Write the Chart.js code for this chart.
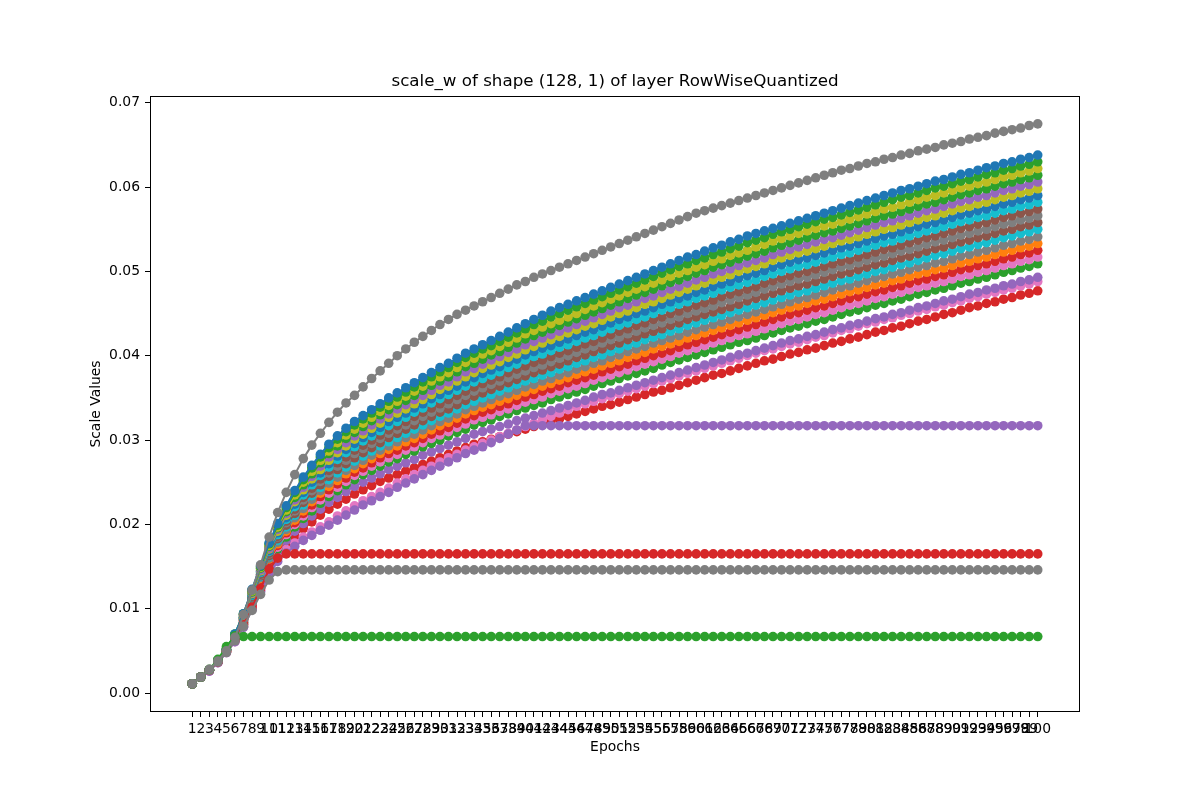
<!DOCTYPE html>
<html>
<head>
<meta charset="utf-8">
<title>scale_w of shape (128, 1) of layer RowWiseQuantized</title>
<script src="https://cdn.jsdelivr.net/npm/chart.js@4/dist/chart.umd.min.js"></script>
<style>
  html, body { margin: 0; padding: 0; background: #fff; }
  canvas { display: block; }
</style>
</head>
<body>
<canvas id="scaleChart" width="1200" height="800"></canvas>
<script>
// text
const chartTitle = 'scale_w of shape (128, 1) of layer RowWiseQuantized';
const xTitle = 'Epochs';
const yTitle = 'Scale Values';

// x categories: epochs 1..100
const epochs = Array.from({ length: 100 }, (_, i) => i + 1);
const yTicks = [0, 0.01, 0.02, 0.03, 0.04, 0.05, 0.06, 0.07];

// series values (top gray, then the band from high to low, then the flat ones)
const scaleTop = [
  0.0011,0.0019,0.0028,0.0038,0.0050,0.0066,0.0093,0.0122,0.0152,0.0185,
  0.0214,0.0238,0.0259,0.0278,0.0294,0.0308,0.0321,0.0333,0.0344,0.0353,
  0.0363,0.0373,0.0382,0.0391,0.0400,0.0408,0.0416,0.0423,0.0430,0.0437,
  0.0443,0.0449,0.0454,0.0459,0.0464,0.0469,0.0474,0.0479,0.0484,0.0488,
  0.0493,0.0497,0.0501,0.0505,0.0509,0.0513,0.0517,0.0521,0.0525,0.0529,
  0.0533,0.0537,0.0541,0.0545,0.0549,0.0553,0.0557,0.0561,0.0565,0.0569,
  0.0572,0.0575,0.0578,0.0581,0.0584,0.0587,0.0590,0.0593,0.0596,0.0599,
  0.0602,0.0605,0.0608,0.0611,0.0614,0.0617,0.0620,0.0622,0.0625,0.0628,
  0.0630,0.0633,0.0635,0.0638,0.0640,0.0643,0.0645,0.0647,0.0650,0.0652,
  0.0654,0.0657,0.0659,0.0661,0.0664,0.0666,0.0668,0.0670,0.0673,0.0675
];
const band100 = [
  0.0011,0.0019,0.0027,0.0038,0.0052,0.0070,0.0094,0.0123,0.0151,0.0178,
  0.0201,0.0222,0.0240,0.0256,0.0270,0.0283,0.0295,0.0305,0.0314,0.0322,
  0.0329,0.0336,0.0343,0.0350,0.0356,0.0362,0.0368,0.0374,0.0380,0.0386,
  0.0391,0.0397,0.0403,0.0408,0.0413,0.0418,0.0423,0.0428,0.0433,0.0438,
  0.0443,0.0448,0.0453,0.0457,0.0461,0.0465,0.0469,0.0473,0.0477,0.0481,
  0.0485,0.0489,0.0493,0.0497,0.0501,0.0505,0.0509,0.0513,0.0517,0.0520,
  0.0524,0.0528,0.0531,0.0535,0.0538,0.0542,0.0545,0.0548,0.0551,0.0554,
  0.0557,0.0560,0.0563,0.0566,0.0569,0.0572,0.0575,0.0578,0.0581,0.0584,
  0.0587,0.0590,0.0593,0.0596,0.0598,0.0601,0.0604,0.0607,0.0609,0.0612,
  0.0615,0.0617,0.0620,0.0623,0.0625,0.0628,0.0630,0.0633,0.0635,0.0638
];
const band95 = [
  0.0011,0.0019,0.0027,0.0038,0.0052,0.0070,0.0094,0.0122,0.0150,0.0177,
  0.0199,0.0220,0.0238,0.0253,0.0267,0.0280,0.0291,0.0301,0.0310,0.0318,
  0.0325,0.0332,0.0339,0.0346,0.0351,0.0357,0.0363,0.0369,0.0375,0.0381,
  0.0386,0.0392,0.0398,0.0403,0.0408,0.0412,0.0417,0.0422,0.0427,0.0432,
  0.0437,0.0441,0.0446,0.0450,0.0454,0.0458,0.0462,0.0466,0.0470,0.0474,
  0.0478,0.0482,0.0486,0.0490,0.0494,0.0498,0.0502,0.0506,0.0509,0.0513,
  0.0516,0.0520,0.0523,0.0527,0.0530,0.0534,0.0537,0.0540,0.0544,0.0547,
  0.0550,0.0553,0.0556,0.0559,0.0562,0.0564,0.0567,0.0570,0.0573,0.0576,
  0.0579,0.0582,0.0585,0.0588,0.0590,0.0593,0.0596,0.0599,0.0601,0.0604,
  0.0607,0.0609,0.0612,0.0615,0.0617,0.0620,0.0622,0.0625,0.0627,0.0630
];
const band90 = [
  0.0011,0.0019,0.0027,0.0038,0.0052,0.0069,0.0093,0.0121,0.0149,0.0175,
  0.0197,0.0217,0.0235,0.0250,0.0263,0.0276,0.0287,0.0297,0.0306,0.0313,
  0.0320,0.0327,0.0334,0.0341,0.0346,0.0352,0.0358,0.0364,0.0370,0.0375,
  0.0380,0.0386,0.0392,0.0397,0.0402,0.0406,0.0411,0.0416,0.0421,0.0426,
  0.0430,0.0434,0.0438,0.0442,0.0446,0.0450,0.0455,0.0459,0.0463,0.0467,
  0.0471,0.0475,0.0479,0.0482,0.0486,0.0490,0.0494,0.0498,0.0501,0.0505,
  0.0508,0.0512,0.0515,0.0519,0.0522,0.0525,0.0529,0.0532,0.0536,0.0539,
  0.0542,0.0545,0.0548,0.0551,0.0554,0.0556,0.0559,0.0562,0.0565,0.0568,
  0.0571,0.0574,0.0576,0.0579,0.0582,0.0585,0.0588,0.0590,0.0593,0.0596,
  0.0599,0.0601,0.0604,0.0606,0.0609,0.0612,0.0614,0.0617,0.0619,0.0622
];
const band85 = [
  0.0011,0.0019,0.0027,0.0038,0.0052,0.0069,0.0093,0.0120,0.0148,0.0174,
  0.0196,0.0215,0.0232,0.0247,0.0260,0.0273,0.0284,0.0293,0.0302,0.0309,
  0.0316,0.0323,0.0330,0.0336,0.0342,0.0347,0.0353,0.0359,0.0365,0.0370,
  0.0375,0.0381,0.0387,0.0391,0.0396,0.0401,0.0405,0.0410,0.0415,0.0420,
  0.0424,0.0428,0.0432,0.0436,0.0440,0.0444,0.0448,0.0452,0.0456,0.0460,
  0.0464,0.0468,0.0472,0.0475,0.0479,0.0483,0.0487,0.0490,0.0494,0.0498,
  0.0501,0.0505,0.0508,0.0511,0.0515,0.0518,0.0521,0.0524,0.0528,0.0531,
  0.0534,0.0537,0.0540,0.0543,0.0546,0.0548,0.0551,0.0554,0.0557,0.0560,
  0.0563,0.0566,0.0568,0.0571,0.0574,0.0577,0.0580,0.0582,0.0585,0.0588,
  0.0591,0.0593,0.0596,0.0598,0.0601,0.0604,0.0606,0.0609,0.0611,0.0614
];
const band80 = [
  0.0011,0.0019,0.0027,0.0038,0.0051,0.0069,0.0092,0.0119,0.0146,0.0172,
  0.0194,0.0213,0.0229,0.0244,0.0257,0.0269,0.0280,0.0289,0.0297,0.0305,
  0.0311,0.0318,0.0325,0.0331,0.0337,0.0342,0.0348,0.0353,0.0359,0.0365,
  0.0369,0.0375,0.0381,0.0385,0.0390,0.0395,0.0399,0.0404,0.0408,0.0413,
  0.0417,0.0421,0.0425,0.0429,0.0433,0.0437,0.0441,0.0445,0.0449,0.0453,
  0.0457,0.0460,0.0464,0.0468,0.0471,0.0475,0.0479,0.0482,0.0486,0.0490,
  0.0493,0.0497,0.0500,0.0503,0.0507,0.0510,0.0513,0.0516,0.0520,0.0523,
  0.0526,0.0529,0.0532,0.0535,0.0538,0.0540,0.0543,0.0546,0.0549,0.0552,
  0.0555,0.0558,0.0560,0.0563,0.0566,0.0569,0.0572,0.0574,0.0577,0.0580,
  0.0583,0.0585,0.0588,0.0590,0.0593,0.0596,0.0598,0.0601,0.0603,0.0606
];
const band75 = [
  0.0011,0.0019,0.0027,0.0038,0.0051,0.0069,0.0091,0.0118,0.0145,0.0171,
  0.0192,0.0211,0.0227,0.0241,0.0254,0.0265,0.0276,0.0285,0.0293,0.0301,
  0.0307,0.0314,0.0320,0.0327,0.0332,0.0337,0.0343,0.0348,0.0354,0.0360,
  0.0364,0.0370,0.0375,0.0380,0.0385,0.0389,0.0393,0.0398,0.0402,0.0407,
  0.0411,0.0415,0.0419,0.0423,0.0427,0.0431,0.0435,0.0438,0.0442,0.0446,
  0.0450,0.0453,0.0457,0.0461,0.0464,0.0468,0.0472,0.0475,0.0479,0.0483,
  0.0486,0.0490,0.0493,0.0496,0.0500,0.0503,0.0506,0.0509,0.0513,0.0516,
  0.0519,0.0522,0.0524,0.0527,0.0530,0.0533,0.0536,0.0538,0.0541,0.0544,
  0.0547,0.0550,0.0552,0.0555,0.0558,0.0561,0.0564,0.0566,0.0569,0.0572,
  0.0575,0.0577,0.0580,0.0582,0.0585,0.0588,0.0590,0.0593,0.0595,0.0598
];
const band70 = [
  0.0011,0.0019,0.0027,0.0038,0.0051,0.0068,0.0090,0.0117,0.0144,0.0169,
  0.0190,0.0208,0.0224,0.0238,0.0250,0.0261,0.0272,0.0281,0.0289,0.0296,
  0.0303,0.0309,0.0315,0.0322,0.0327,0.0332,0.0338,0.0343,0.0349,0.0354,
  0.0359,0.0364,0.0369,0.0374,0.0379,0.0383,0.0387,0.0392,0.0396,0.0401,
  0.0405,0.0409,0.0412,0.0416,0.0420,0.0424,0.0428,0.0431,0.0435,0.0439,
  0.0443,0.0446,0.0450,0.0453,0.0457,0.0461,0.0464,0.0468,0.0471,0.0475,
  0.0478,0.0482,0.0485,0.0488,0.0492,0.0495,0.0498,0.0501,0.0505,0.0508,
  0.0511,0.0514,0.0516,0.0519,0.0522,0.0525,0.0528,0.0530,0.0533,0.0536,
  0.0539,0.0542,0.0544,0.0547,0.0550,0.0553,0.0556,0.0558,0.0561,0.0564,
  0.0567,0.0569,0.0572,0.0574,0.0577,0.0580,0.0582,0.0585,0.0587,0.0590
];
const band65 = [
  0.0011,0.0019,0.0027,0.0038,0.0051,0.0068,0.0090,0.0116,0.0143,0.0168,
  0.0188,0.0206,0.0221,0.0235,0.0247,0.0258,0.0268,0.0277,0.0285,0.0292,
  0.0299,0.0305,0.0311,0.0317,0.0322,0.0327,0.0333,0.0338,0.0344,0.0349,
  0.0354,0.0359,0.0364,0.0369,0.0373,0.0377,0.0381,0.0386,0.0390,0.0395,
  0.0399,0.0402,0.0406,0.0410,0.0413,0.0417,0.0421,0.0424,0.0428,0.0432,
  0.0436,0.0439,0.0443,0.0446,0.0450,0.0454,0.0457,0.0461,0.0464,0.0468,
  0.0471,0.0474,0.0478,0.0481,0.0484,0.0487,0.0490,0.0494,0.0497,0.0500,
  0.0503,0.0506,0.0508,0.0511,0.0514,0.0517,0.0520,0.0522,0.0525,0.0528,
  0.0531,0.0534,0.0536,0.0539,0.0542,0.0545,0.0548,0.0550,0.0553,0.0556,
  0.0559,0.0561,0.0564,0.0566,0.0569,0.0572,0.0574,0.0577,0.0579,0.0582
];
const band60 = [
  0.0011,0.0019,0.0027,0.0038,0.0051,0.0067,0.0089,0.0115,0.0141,0.0166,
  0.0186,0.0204,0.0218,0.0232,0.0243,0.0254,0.0264,0.0273,0.0280,0.0288,
  0.0294,0.0300,0.0306,0.0312,0.0317,0.0322,0.0328,0.0333,0.0338,0.0343,
  0.0348,0.0353,0.0358,0.0363,0.0367,0.0371,0.0375,0.0380,0.0384,0.0388,
  0.0392,0.0395,0.0399,0.0403,0.0406,0.0410,0.0414,0.0417,0.0421,0.0425,
  0.0429,0.0432,0.0436,0.0439,0.0443,0.0446,0.0450,0.0453,0.0457,0.0460,
  0.0463,0.0466,0.0470,0.0473,0.0476,0.0479,0.0482,0.0486,0.0489,0.0492,
  0.0495,0.0498,0.0500,0.0503,0.0506,0.0509,0.0512,0.0514,0.0517,0.0520,
  0.0523,0.0526,0.0528,0.0531,0.0534,0.0537,0.0540,0.0542,0.0545,0.0548,
  0.0551,0.0553,0.0556,0.0558,0.0561,0.0564,0.0566,0.0569,0.0571,0.0574
];
const band55 = [
  0.0011,0.0019,0.0027,0.0038,0.0051,0.0067,0.0089,0.0115,0.0140,0.0165,
  0.0185,0.0202,0.0216,0.0229,0.0240,0.0251,0.0261,0.0269,0.0276,0.0284,
  0.0290,0.0296,0.0302,0.0308,0.0313,0.0318,0.0323,0.0328,0.0333,0.0338,
  0.0343,0.0348,0.0353,0.0358,0.0362,0.0366,0.0370,0.0374,0.0378,0.0382,
  0.0386,0.0389,0.0393,0.0397,0.0400,0.0404,0.0408,0.0411,0.0415,0.0419,
  0.0422,0.0426,0.0429,0.0433,0.0436,0.0439,0.0443,0.0446,0.0450,0.0453,
  0.0456,0.0459,0.0463,0.0466,0.0469,0.0472,0.0475,0.0479,0.0482,0.0485,
  0.0488,0.0491,0.0493,0.0496,0.0499,0.0502,0.0505,0.0507,0.0510,0.0513,
  0.0516,0.0518,0.0521,0.0524,0.0526,0.0529,0.0532,0.0535,0.0537,0.0540,
  0.0543,0.0545,0.0548,0.0550,0.0553,0.0556,0.0558,0.0561,0.0563,0.0566
];
const band50 = [
  0.0011,0.0019,0.0027,0.0038,0.0051,0.0067,0.0088,0.0114,0.0139,0.0163,
  0.0183,0.0199,0.0213,0.0226,0.0237,0.0247,0.0257,0.0265,0.0272,0.0279,
  0.0285,0.0291,0.0297,0.0303,0.0308,0.0313,0.0318,0.0323,0.0328,0.0333,
  0.0337,0.0342,0.0347,0.0352,0.0356,0.0360,0.0364,0.0368,0.0372,0.0376,
  0.0380,0.0383,0.0387,0.0390,0.0394,0.0398,0.0401,0.0405,0.0408,0.0412,
  0.0415,0.0419,0.0422,0.0426,0.0429,0.0432,0.0436,0.0439,0.0443,0.0446,
  0.0449,0.0452,0.0455,0.0458,0.0461,0.0465,0.0468,0.0471,0.0474,0.0477,
  0.0480,0.0483,0.0485,0.0488,0.0491,0.0494,0.0497,0.0499,0.0502,0.0505,
  0.0508,0.0510,0.0513,0.0516,0.0518,0.0521,0.0524,0.0527,0.0529,0.0532,
  0.0535,0.0537,0.0540,0.0542,0.0545,0.0548,0.0550,0.0553,0.0555,0.0558
];
const band45 = [
  0.0011,0.0019,0.0027,0.0038,0.0051,0.0067,0.0088,0.0113,0.0138,0.0162,
  0.0181,0.0197,0.0211,0.0223,0.0234,0.0244,0.0253,0.0261,0.0268,0.0275,
  0.0281,0.0287,0.0293,0.0298,0.0303,0.0308,0.0313,0.0318,0.0323,0.0328,
  0.0332,0.0337,0.0342,0.0346,0.0350,0.0354,0.0358,0.0362,0.0366,0.0370,
  0.0373,0.0377,0.0380,0.0384,0.0387,0.0391,0.0394,0.0398,0.0401,0.0405,
  0.0408,0.0412,0.0415,0.0419,0.0422,0.0425,0.0429,0.0432,0.0436,0.0439,
  0.0442,0.0445,0.0448,0.0451,0.0454,0.0457,0.0460,0.0463,0.0466,0.0469,
  0.0472,0.0475,0.0477,0.0480,0.0483,0.0486,0.0489,0.0491,0.0494,0.0497,
  0.0500,0.0502,0.0505,0.0508,0.0510,0.0513,0.0516,0.0519,0.0521,0.0524,
  0.0527,0.0529,0.0532,0.0534,0.0537,0.0540,0.0542,0.0545,0.0547,0.0550
];
const band40 = [
  0.0011,0.0019,0.0027,0.0037,0.0050,0.0066,0.0087,0.0112,0.0137,0.0160,
  0.0179,0.0194,0.0208,0.0219,0.0230,0.0240,0.0249,0.0256,0.0264,0.0270,
  0.0276,0.0282,0.0288,0.0293,0.0298,0.0303,0.0307,0.0312,0.0317,0.0322,
  0.0326,0.0331,0.0336,0.0340,0.0344,0.0348,0.0352,0.0355,0.0359,0.0363,
  0.0366,0.0370,0.0373,0.0377,0.0380,0.0384,0.0387,0.0391,0.0394,0.0398,
  0.0401,0.0405,0.0408,0.0411,0.0415,0.0418,0.0421,0.0424,0.0428,0.0431,
  0.0434,0.0437,0.0440,0.0443,0.0446,0.0449,0.0452,0.0455,0.0458,0.0461,
  0.0464,0.0467,0.0469,0.0472,0.0475,0.0478,0.0481,0.0483,0.0486,0.0489,
  0.0492,0.0494,0.0497,0.0499,0.0502,0.0505,0.0507,0.0510,0.0512,0.0515,
  0.0518,0.0520,0.0523,0.0525,0.0528,0.0531,0.0533,0.0536,0.0538,0.0541
];
const band35 = [
  0.0011,0.0019,0.0027,0.0037,0.0050,0.0066,0.0087,0.0111,0.0136,0.0159,
  0.0177,0.0192,0.0205,0.0216,0.0227,0.0237,0.0245,0.0252,0.0260,0.0266,
  0.0272,0.0278,0.0284,0.0289,0.0293,0.0298,0.0302,0.0307,0.0312,0.0317,
  0.0321,0.0326,0.0331,0.0335,0.0339,0.0342,0.0346,0.0349,0.0353,0.0357,
  0.0360,0.0364,0.0367,0.0371,0.0374,0.0378,0.0381,0.0384,0.0388,0.0391,
  0.0394,0.0398,0.0401,0.0404,0.0408,0.0411,0.0414,0.0417,0.0421,0.0424,
  0.0427,0.0430,0.0433,0.0436,0.0439,0.0442,0.0445,0.0448,0.0451,0.0454,
  0.0457,0.0459,0.0462,0.0465,0.0467,0.0470,0.0473,0.0476,0.0478,0.0481,
  0.0484,0.0486,0.0489,0.0491,0.0494,0.0497,0.0499,0.0502,0.0504,0.0507,
  0.0510,0.0512,0.0515,0.0517,0.0520,0.0523,0.0525,0.0528,0.0530,0.0533
];
const band30 = [
  0.0011,0.0019,0.0027,0.0037,0.0050,0.0065,0.0086,0.0110,0.0134,0.0157,
  0.0175,0.0190,0.0202,0.0213,0.0223,0.0233,0.0241,0.0248,0.0255,0.0262,
  0.0267,0.0273,0.0279,0.0284,0.0288,0.0293,0.0297,0.0302,0.0307,0.0311,
  0.0315,0.0320,0.0325,0.0329,0.0333,0.0336,0.0340,0.0343,0.0347,0.0351,
  0.0354,0.0358,0.0361,0.0364,0.0368,0.0371,0.0374,0.0377,0.0381,0.0384,
  0.0387,0.0390,0.0394,0.0397,0.0400,0.0403,0.0406,0.0410,0.0413,0.0416,
  0.0419,0.0422,0.0425,0.0428,0.0431,0.0434,0.0437,0.0440,0.0443,0.0446,
  0.0449,0.0451,0.0454,0.0457,0.0459,0.0462,0.0465,0.0468,0.0470,0.0473,
  0.0476,0.0478,0.0481,0.0483,0.0486,0.0489,0.0491,0.0494,0.0496,0.0499,
  0.0502,0.0504,0.0507,0.0509,0.0512,0.0515,0.0517,0.0520,0.0522,0.0525
];
const band25 = [
  0.0011,0.0019,0.0027,0.0037,0.0050,0.0065,0.0085,0.0109,0.0133,0.0156,
  0.0173,0.0188,0.0200,0.0210,0.0220,0.0229,0.0237,0.0244,0.0251,0.0258,
  0.0263,0.0269,0.0274,0.0279,0.0283,0.0288,0.0292,0.0297,0.0302,0.0306,
  0.0310,0.0315,0.0319,0.0324,0.0327,0.0330,0.0334,0.0337,0.0341,0.0345,
  0.0348,0.0351,0.0355,0.0358,0.0361,0.0364,0.0367,0.0371,0.0374,0.0377,
  0.0380,0.0383,0.0387,0.0390,0.0393,0.0396,0.0399,0.0403,0.0406,0.0409,
  0.0412,0.0415,0.0418,0.0421,0.0424,0.0426,0.0429,0.0432,0.0435,0.0438,
  0.0441,0.0443,0.0446,0.0449,0.0451,0.0454,0.0457,0.0460,0.0462,0.0465,
  0.0468,0.0470,0.0473,0.0475,0.0478,0.0481,0.0483,0.0486,0.0488,0.0491,
  0.0494,0.0496,0.0499,0.0501,0.0504,0.0507,0.0509,0.0512,0.0514,0.0517
];
const band20 = [
  0.0011,0.0019,0.0027,0.0037,0.0050,0.0064,0.0084,0.0108,0.0132,0.0154,
  0.0171,0.0185,0.0197,0.0207,0.0216,0.0225,0.0233,0.0240,0.0247,0.0253,
  0.0259,0.0264,0.0269,0.0274,0.0278,0.0283,0.0287,0.0292,0.0296,0.0300,
  0.0305,0.0309,0.0313,0.0318,0.0321,0.0324,0.0328,0.0331,0.0335,0.0338,
  0.0341,0.0344,0.0348,0.0351,0.0354,0.0357,0.0360,0.0364,0.0367,0.0370,
  0.0373,0.0376,0.0379,0.0382,0.0385,0.0389,0.0392,0.0395,0.0398,0.0401,
  0.0404,0.0407,0.0410,0.0413,0.0416,0.0418,0.0421,0.0424,0.0427,0.0430,
  0.0433,0.0435,0.0438,0.0441,0.0443,0.0446,0.0449,0.0452,0.0454,0.0457,
  0.0460,0.0462,0.0465,0.0467,0.0470,0.0473,0.0475,0.0478,0.0480,0.0483,
  0.0486,0.0488,0.0491,0.0493,0.0496,0.0499,0.0501,0.0504,0.0506,0.0509
];
const band10 = [
  0.0011,0.0019,0.0027,0.0037,0.0050,0.0064,0.0083,0.0106,0.0130,0.0151,
  0.0168,0.0181,0.0192,0.0201,0.0210,0.0218,0.0226,0.0232,0.0239,0.0245,
  0.0250,0.0255,0.0260,0.0265,0.0269,0.0273,0.0277,0.0282,0.0286,0.0290,
  0.0294,0.0298,0.0302,0.0307,0.0310,0.0313,0.0316,0.0319,0.0323,0.0326,
  0.0329,0.0332,0.0335,0.0338,0.0341,0.0344,0.0347,0.0351,0.0354,0.0356,
  0.0359,0.0362,0.0365,0.0368,0.0371,0.0374,0.0377,0.0380,0.0383,0.0386,
  0.0389,0.0392,0.0395,0.0398,0.0401,0.0403,0.0406,0.0409,0.0412,0.0415,
  0.0418,0.0420,0.0423,0.0425,0.0428,0.0431,0.0433,0.0436,0.0438,0.0441,
  0.0444,0.0446,0.0449,0.0451,0.0454,0.0457,0.0459,0.0462,0.0465,0.0467,
  0.0470,0.0473,0.0475,0.0478,0.0480,0.0483,0.0485,0.0488,0.0490,0.0493
];
const band00 = [
  0.0011,0.0019,0.0027,0.0037,0.0049,0.0063,0.0082,0.0104,0.0127,0.0148,
  0.0164,0.0176,0.0186,0.0195,0.0203,0.0211,0.0218,0.0224,0.0230,0.0236,
  0.0241,0.0246,0.0251,0.0255,0.0259,0.0263,0.0267,0.0271,0.0275,0.0279,
  0.0283,0.0287,0.0291,0.0295,0.0298,0.0301,0.0304,0.0307,0.0310,0.0313,
  0.0316,0.0319,0.0322,0.0325,0.0328,0.0331,0.0334,0.0337,0.0340,0.0342,
  0.0345,0.0348,0.0351,0.0354,0.0357,0.0359,0.0362,0.0365,0.0368,0.0371,
  0.0374,0.0377,0.0379,0.0382,0.0385,0.0388,0.0391,0.0394,0.0396,0.0399,
  0.0402,0.0404,0.0407,0.0409,0.0412,0.0415,0.0417,0.0420,0.0422,0.0425,
  0.0428,0.0430,0.0433,0.0435,0.0438,0.0441,0.0443,0.0446,0.0449,0.0451,
  0.0454,0.0457,0.0459,0.0462,0.0464,0.0467,0.0469,0.0472,0.0474,0.0477
];
const pinkLow = [
  0.0011,0.0019,0.0026,0.0036,0.0048,0.0061,0.0079,0.0100,0.0122,0.0143,
  0.0160,0.0170,0.0178,0.0185,0.0191,0.0197,0.0203,0.0210,0.0216,0.0222,
  0.0228,0.0233,0.0238,0.0243,0.0249,0.0254,0.0259,0.0264,0.0269,0.0274,
  0.0279,0.0283,0.0288,0.0292,0.0296,0.0300,0.0304,0.0308,0.0312,0.0316,
  0.0320,0.0324,0.0328,0.0332,0.0336,0.0340,0.0343,0.0346,0.0349,0.0352,
  0.0355,0.0358,0.0361,0.0364,0.0367,0.0370,0.0373,0.0376,0.0379,0.0382,
  0.0385,0.0388,0.0391,0.0394,0.0397,0.0400,0.0403,0.0406,0.0408,0.0411,
  0.0414,0.0416,0.0419,0.0422,0.0424,0.0427,0.0430,0.0432,0.0435,0.0438,
  0.0440,0.0443,0.0445,0.0448,0.0450,0.0453,0.0455,0.0458,0.0460,0.0463,
  0.0465,0.0468,0.0470,0.0473,0.0475,0.0478,0.0480,0.0483,0.0485,0.0488
];
const purpleFlat = [
  0.0011,0.0019,0.0026,0.0036,0.0048,0.0061,0.0078,0.0099,0.0120,0.0140,
  0.0156,0.0166,0.0174,0.0181,0.0187,0.0193,0.0199,0.0205,0.0211,0.0217,
  0.0223,0.0228,0.0233,0.0238,0.0244,0.0249,0.0254,0.0259,0.0264,0.0269,
  0.0274,0.0279,0.0284,0.0288,0.0292,0.0297,0.0302,0.0307,0.0312,0.0317,
  0.0317,0.0317,0.0317,0.0317,0.0317,0.0317,0.0317,0.0317,0.0317,0.0317,
  0.0317,0.0317,0.0317,0.0317,0.0317,0.0317,0.0317,0.0317,0.0317,0.0317,
  0.0317,0.0317,0.0317,0.0317,0.0317,0.0317,0.0317,0.0317,0.0317,0.0317,
  0.0317,0.0317,0.0317,0.0317,0.0317,0.0317,0.0317,0.0317,0.0317,0.0317,
  0.0317,0.0317,0.0317,0.0317,0.0317,0.0317,0.0317,0.0317,0.0317,0.0317,
  0.0317,0.0317,0.0317,0.0317,0.0317,0.0317,0.0317,0.0317,0.0317,0.0317
];
const redFlat = [
  0.0011,0.0019,0.0027,0.0037,0.0049,0.0063,0.0081,0.0102,0.0124,0.0147,
  0.0160,0.0165,0.0165,0.0165,0.0165,0.0165,0.0165,0.0165,0.0165,0.0165,
  0.0165,0.0165,0.0165,0.0165,0.0165,0.0165,0.0165,0.0165,0.0165,0.0165,
  0.0165,0.0165,0.0165,0.0165,0.0165,0.0165,0.0165,0.0165,0.0165,0.0165,
  0.0165,0.0165,0.0165,0.0165,0.0165,0.0165,0.0165,0.0165,0.0165,0.0165,
  0.0165,0.0165,0.0165,0.0165,0.0165,0.0165,0.0165,0.0165,0.0165,0.0165,
  0.0165,0.0165,0.0165,0.0165,0.0165,0.0165,0.0165,0.0165,0.0165,0.0165,
  0.0165,0.0165,0.0165,0.0165,0.0165,0.0165,0.0165,0.0165,0.0165,0.0165,
  0.0165,0.0165,0.0165,0.0165,0.0165,0.0165,0.0165,0.0165,0.0165,0.0165,
  0.0165,0.0165,0.0165,0.0165,0.0165,0.0165,0.0165,0.0165,0.0165,0.0165
];
const grayFlat = [
  0.0011,0.0019,0.0027,0.0037,0.0048,0.0062,0.0079,0.0098,0.0117,0.0134,
  0.0144,0.0146,0.0146,0.0146,0.0146,0.0146,0.0146,0.0146,0.0146,0.0146,
  0.0146,0.0146,0.0146,0.0146,0.0146,0.0146,0.0146,0.0146,0.0146,0.0146,
  0.0146,0.0146,0.0146,0.0146,0.0146,0.0146,0.0146,0.0146,0.0146,0.0146,
  0.0146,0.0146,0.0146,0.0146,0.0146,0.0146,0.0146,0.0146,0.0146,0.0146,
  0.0146,0.0146,0.0146,0.0146,0.0146,0.0146,0.0146,0.0146,0.0146,0.0146,
  0.0146,0.0146,0.0146,0.0146,0.0146,0.0146,0.0146,0.0146,0.0146,0.0146,
  0.0146,0.0146,0.0146,0.0146,0.0146,0.0146,0.0146,0.0146,0.0146,0.0146,
  0.0146,0.0146,0.0146,0.0146,0.0146,0.0146,0.0146,0.0146,0.0146,0.0146,
  0.0146,0.0146,0.0146,0.0146,0.0146,0.0146,0.0146,0.0146,0.0146,0.0146
];
const greenFlat = [
  0.0011,0.0019,0.0028,0.0040,0.0055,0.0068,0.0067,0.0067,0.0067,0.0067,
  0.0067,0.0067,0.0067,0.0067,0.0067,0.0067,0.0067,0.0067,0.0067,0.0067,
  0.0067,0.0067,0.0067,0.0067,0.0067,0.0067,0.0067,0.0067,0.0067,0.0067,
  0.0067,0.0067,0.0067,0.0067,0.0067,0.0067,0.0067,0.0067,0.0067,0.0067,
  0.0067,0.0067,0.0067,0.0067,0.0067,0.0067,0.0067,0.0067,0.0067,0.0067,
  0.0067,0.0067,0.0067,0.0067,0.0067,0.0067,0.0067,0.0067,0.0067,0.0067,
  0.0067,0.0067,0.0067,0.0067,0.0067,0.0067,0.0067,0.0067,0.0067,0.0067,
  0.0067,0.0067,0.0067,0.0067,0.0067,0.0067,0.0067,0.0067,0.0067,0.0067,
  0.0067,0.0067,0.0067,0.0067,0.0067,0.0067,0.0067,0.0067,0.0067,0.0067,
  0.0067,0.0067,0.0067,0.0067,0.0067,0.0067,0.0067,0.0067,0.0067,0.0067
];

// matplotlib tab10 colours
const C = {
  blue: '#1f77b4', orange: '#ff7f0e', green: '#2ca02c', red: '#d62728', purple: '#9467bd',
  brown: '#8c564b', pink: '#e377c2', gray: '#7f7f7f', olive: '#bcbd22', cyan: '#17becf'
};

// drawing order: first is at the bottom, last on top (as in matplotlib)
const lines = [
  [band00, C.red],
  [pinkLow, C.pink],
  [band10, C.purple],
  [band20, C.green],
  [band25, C.pink],
  [band30, C.red],
  [band35, C.orange],
  [band40, C.gray],
  [band45, C.cyan],
  [band50, C.brown],
  [band55, C.gray],
  [band60, C.brown],
  [band65, C.cyan],
  [band70, C.blue],
  [band75, C.olive],
  [band80, C.purple],
  [band85, C.green],
  [band90, C.olive],
  [band95, C.green],
  [band100, C.blue],
  [purpleFlat, C.purple],
  [redFlat, C.red],
  [grayFlat, C.gray],
  [greenFlat, C.green],
  [scaleTop, C.gray]
];

const datasets = lines.map(([values, color], i) => ({
  data: values.map((v, j) => ({ x: epochs[j], y: v })),
  borderColor: color,
  backgroundColor: color,
  borderWidth: 2,
  pointRadius: 4.8,
  pointBorderWidth: 0,
  pointBackgroundColor: color,
  fill: false,
  tension: 0,
  order: lines.length - 1 - i
}));

const tickFont = { family: 'DejaVu Sans', size: 13.9 };

// white page, closed frame and the three texts
const framePlugin = {
  id: 'frame',
  beforeDraw(chart) {
    const ctx = chart.ctx;
    ctx.save();
    ctx.fillStyle = '#fff';
    ctx.fillRect(0, 0, chart.width, chart.height);
    ctx.restore();
  },
  afterDraw(chart) {
    const { ctx, chartArea: a } = chart;
    ctx.save();
    ctx.strokeStyle = '#000';
    ctx.lineWidth = 1;
    ctx.strokeRect(a.left + 0.5, a.top + 0.5, a.right - a.left - 1, a.bottom - a.top - 1);
    ctx.fillStyle = '#000';
    ctx.textAlign = 'center';
    ctx.textBaseline = 'middle';
    ctx.font = '16.7px "DejaVu Sans"';
    ctx.fillText(chartTitle, (a.left + a.right) / 2, 82);
    ctx.font = '13.9px "DejaVu Sans"';
    ctx.fillText(xTitle, (a.left + a.right) / 2, 747);
    ctx.translate(96, (a.top + a.bottom) / 2);
    ctx.rotate(-Math.PI / 2);
    ctx.fillText(yTitle, 0, 0);
    ctx.restore();
  }
};

new Chart(document.getElementById('scaleChart').getContext('2d'), {
  type: 'line',
  data: { datasets },
  options: {
    responsive: false,
    animation: false,
    devicePixelRatio: 1,
    events: [],
    layout: { padding: { left: 0, right: 120, top: 96, bottom: 0 } },
    plugins: { legend: { display: false }, tooltip: { enabled: false }, title: { display: false } },
    scales: {
      x: {
        type: 'linear',
        min: -3.95,
        max: 104.95,
        afterBuildTicks: s => { s.ticks = epochs.map(v => ({ value: v })); },
        afterFit: s => { s.height = 88; },
        border: { display: false },
        grid: { drawOnChartArea: false, drawTicks: true, tickLength: 5, tickColor: '#000', color: '#000' },
        ticks: {
          autoSkip: false, maxRotation: 0, minRotation: 0, padding: 4,
          color: '#000', font: tickFont,
          callback: v => String(v)
        }
      },
      y: {
        type: 'linear',
        min: -0.00225,
        max: 0.0708,
        afterBuildTicks: s => { s.ticks = yTicks.map(v => ({ value: v })); },
        afterFit: s => { s.width = 150; },
        border: { display: false },
        grid: { drawOnChartArea: false, drawTicks: true, tickLength: 5, tickColor: '#000', color: '#000' },
        ticks: { padding: 5, color: '#000', font: tickFont, callback: v => v.toFixed(2) }
      }
    }
  },
  plugins: [framePlugin]
});
</script>
</body>
</html>
